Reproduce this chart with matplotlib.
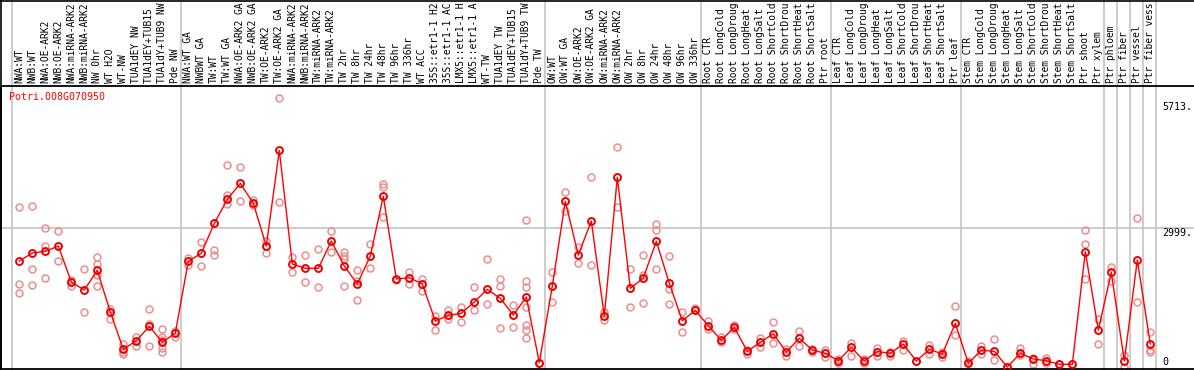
import matplotlib
matplotlib.use("Agg")
import matplotlib.pyplot as plt
from matplotlib.lines import Line2D
import numpy as np

# --- DATA ---
gene = "Potri.008G070950"

samples = [
    "NWA:WT", "NWB:WT", "NWA:OE-ARK2", "NWB:OE-ARK2", "NWA:miRNA-ARK2", "NWB:miRNA-ARK2",
    "NW 0hr", "WT H2O", "WT-NW", "TUA1dEY NW", "TUA1dEY+TUB15 NW", "TUA1dY+TUB9 NW", "Pde NW",
    "NWA:WT GA", "NWBWT GA", "TW:WT", "TW:WT GA", "NWA:OE-ARK2 GA", "NWB:OE-ARK2 GA",
    "TW:OE-ARK2", "TW:OE-ARK2 GA", "NWA:miRNA-ARK2", "NWB:miRNA-ARK2", "TW:miRNA-ARK2",
    "TW:miRNA-ARK2", "TW 2hr", "TW 8hr", "TW 24hr", "TW 48hr", "TW 96hr", "TW 336hr",
    "WT ACC", "35S::etr1-1 H2O", "35S::etr1-1 ACC", "LMX5::etr1-1 H2O", "LMX5::etr1-1 ACC",
    "WT-TW", "TUA1dEY TW", "TUA1dEY+TUB15 TW", "TUA1dY+TUB9 TW", "Pde TW",
    "OW:WT", "OW:WT GA", "OW:OE-ARK2", "OW:OE-ARK2 GA", "OW:miRNA-ARK2", "OW:miRNA-ARK2",
    "OW 2hr", "OW 8hr", "OW 24hr", "OW 48hr", "OW 96hr", "OW 336hr",
    "Root CTR", "Root LongCold", "Root LongDrought", "Root LongHeat", "Root LongSalt",
    "Root ShortCold", "Root ShortDrought", "Root ShortHeat", "Root ShortSalt", "Ptr root",
    "Leaf CTR", "Leaf LongCold", "Leaf LongDrought", "Leaf LongHeat", "Leaf LongSalt",
    "Leaf ShortCold", "Leaf ShortDrought", "Leaf ShortHeat", "Leaf ShortSalt", "Ptr leaf",
    "Stem CTR", "Stem LongCold", "Stem LongDrought", "Stem LongHeat", "Stem LongSalt",
    "Stem ShortCold", "Stem ShortDrought", "Stem ShortHeat", "Stem ShortSalt", "Ptr shoot",
    "Ptr xylem", "Ptr phloem", "Ptr fiber", "Ptr vessel", "Ptr fiber vessel",
]

means = [
    2283, 2456, 2492, 2606, 1831, 1659, 2083, 1185, 381, 567, 877, 532, 732,
    2277, 2449, 3095, 3612, 3957, 3526, 2606, 4668, 2219, 2126, 2126, 2714, 2176, 1788,
    2391, 3677, 1896, 1924, 1788, 991, 1114, 1157, 1400, 1674, 1480, 1120, 1508, 93,
    1745, 3569, 2412, 3145, 1092, 4086, 1695, 1917, 2708, 1803, 997, 1221,
    890, 575, 855, 338, 532, 717, 323, 618, 366, 295,
    136, 424, 129, 334, 295, 495, 129, 381, 280, 941,
    80, 360, 338, 0, 295, 172, 136, 58, 58, 2484,
    797, 2040, 129, 2305, 495,
]

replicates = [
    [3446, 1781, 1594], [3468, 2104, 1760], [2994, 2613, 1911], [2929, 2277], [1745, 1874],
    [2104, 1185], [2369, 2219, 1975, 1745], [1256, 1040], [495, 330, 280], [640, 459],
    [1249, 926, 452], [819, 653, 582, 403, 317], [782, 653],
    [2348, 2197], [2686, 2182], [2520, 2419], [4345, 3705, 3518], [4314, 3582], [3597, 3489],
    [2714, 2456], [5788, 3548], [2369, 2053], [2406, 1824], [2542, 1717], [2929, 2471],
    [2471, 2397, 2326, 1745], [2083, 1852, 1443], [2649, 2132], [3935, 3877, 3231], [1874],
    [2053, 1794], [1896, 1631], [1105, 791], [1221, 1027], [1299, 963], [1717, 1228],
    [2320, 1351], [1896, 1738, 834], [1335, 855], [3160, 1859, 1730, 1286, 905, 797, 618], [93],
    [2053, 1394], [3763, 3354], [2591, 2234], [4086, 2191], [1191, 1012], [4732, 3440],
    [2104, 1286], [2412, 1988, 1379], [3074, 2944, 2104], [2391, 1687, 1357], [1185, 747],
    [1264, 1221],
    [997, 819], [640, 539], [905, 819], [373, 280], [631, 437], [963, 511], [394, 243],
    [775, 452], [388, 330], [373, 215],
    [166, 93], [523, 237], [179, 93], [416, 243], [243, 320], [567, 366], [129], [474, 280],
    [330, 209], [1307, 689],
    [136], [452, 280], [597, 151], [0], [403, 258], [200, 65], [194, 93], [58], [58],
    [2944, 2643, 1889],
    [1027, 489], [2160, 1859], [258, 0], [3209, 1400], [747, 366, 317],
]

# group separators come after these sample indices
group_ends = [-1, 12, 40, 52, 62, 72, 83, 84, 85, 86, 87]

y_ticks = [0, 2999, 5713]

# the chart shows at most 14 characters of each sample name
label_len = 14

# --- PLOT ---
W, H = 1194, 370
fig = plt.figure(figsize=(W / 100, H / 100), dpi=100)
ax_top_px, ax_bot_px = 86, 368.5
ax = fig.add_axes([1 / W, (H - ax_bot_px) / H, (W - 1) / W, (ax_bot_px - ax_top_px) / H])

mono = "DejaVu Sans Mono"
x = np.arange(len(samples))

for i, reps in enumerate(replicates):
    ax.plot([i] * len(reps), reps, linestyle="none", marker="o", ms=5, mfc="none",
            mec="#ec8e8e", mew=1.1, zorder=2)

ax.plot(x, means, color="#ff0000", lw=1, marker="o", ms=5, mfc="none",
        mec="#ee0000", mew=1.4, zorder=3)

ax.set_xlim((1 - 19.3) / 13, (W - 19.3) / 13)
ax.set_ylim(-32, 6053)

# grid / separators
span = 1 + ax_top_px / (ax_bot_px - ax_top_px)
for g in group_ends:
    ax.axvline(g + 0.4, ymin=0, ymax=span, color="#c4c4c4", lw=1.2, clip_on=False, zorder=1)
ax.axhline(y_ticks[1], color="#c4c4c4", lw=1.2, zorder=1)

# y labels on the right, inside the plot
tr = ax.get_yaxis_transform()
for v in y_ticks:
    ax.text(0.9733, v, "0" if v == 0 else f"{v}.", transform=tr, fontsize=7.2, family=mono,
            va="bottom" if v == 0 else "top", ha="left", color="black")

ax.text(8.3 / W, 1 - 5.5 / (ax_bot_px - ax_top_px), gene, transform=ax.transAxes,
        color="#ff0000", fontsize=7.2, family=mono, va="top", ha="left")

# sample names along the top
ax.set_yticks([])
ax.set_xticks(x)
ax.set_xticklabels([s[:label_len] for s in samples], rotation=90, fontsize=6.9, family=mono)
ax.tick_params(axis="x", top=True, bottom=False, labeltop=True, labelbottom=False,
               length=0, pad=2.0)
for lbl in ax.get_xticklabels():
    lbl.set_va("bottom")

for s in ["left", "top", "bottom"]:
    ax.spines[s].set_color("black")
    ax.spines[s].set_linewidth(1.3)
ax.spines["right"].set_visible(False)

# outer frame lines of the whole picture (top and left)
fig.add_artist(Line2D([0, 1], [1 - 0.6 / H, 1 - 0.6 / H], color="black", lw=1.2,
                      transform=fig.transFigure))
fig.add_artist(Line2D([0.6 / W, 0.6 / W], [0, 1], color="black", lw=1.2,
                      transform=fig.transFigure))

fig.savefig("out.png", dpi=100)
